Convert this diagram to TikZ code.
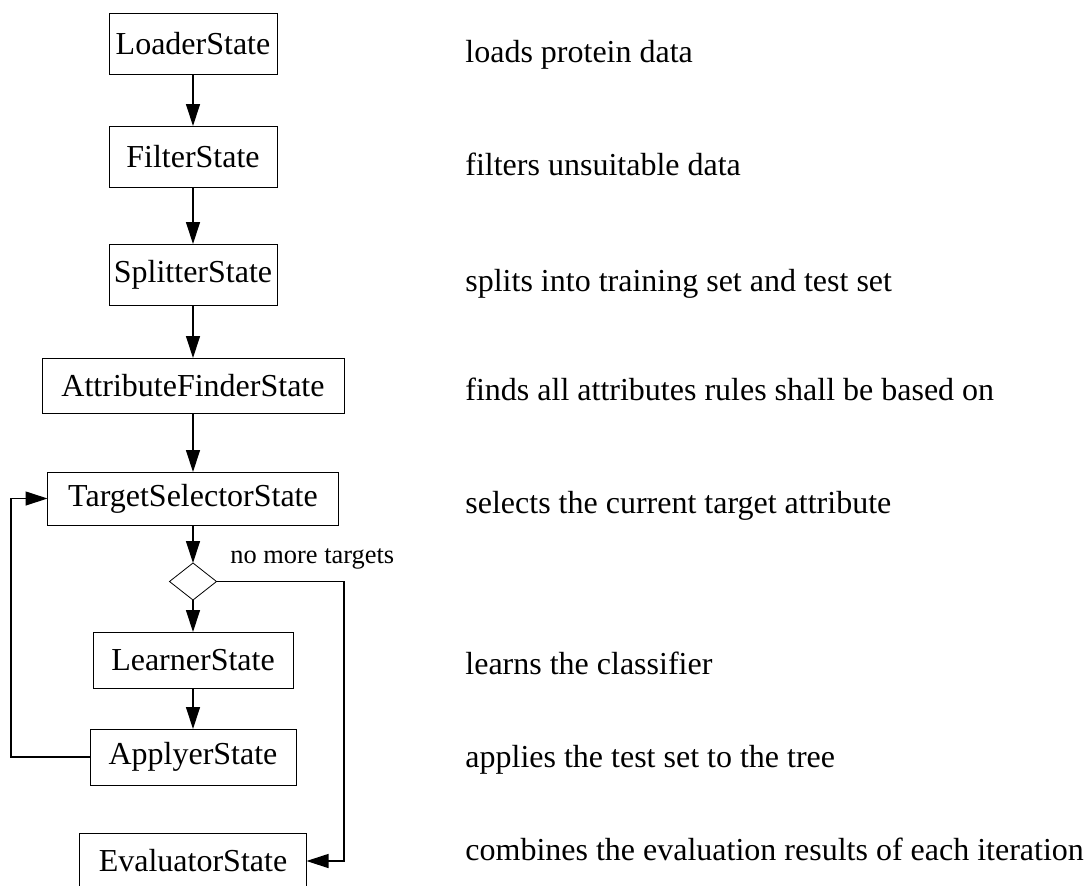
\documentclass[tikz,border=0pt]{standalone}
\usepackage{fontspec}
\setmainfont{Liberation Serif}
\usepackage{tikz}
\usetikzlibrary{shapes.geometric,positioning,calc,arrows.meta}

\begin{document}
\begin{tikzpicture}[node distance=26pt,
 st/.style={draw,inner sep=0pt,outer sep=0pt,minimum height=28pt,font=\fontsize{16}{19}\selectfont},
 dm/.style={diamond,draw,inner sep=0pt,outer sep=0pt,minimum width=23.5pt,minimum height=18.5pt},
 ds/.style={anchor=base west,inner sep=0pt,font=\fontsize{16}{19}\selectfont},
 ar/.style={-{Triangle[length=11pt,width=7pt]},line width=0.6pt}]
\clip (0,0) rectangle (544pt,-442.5pt);
\node[st,minimum width=84pt,minimum height=30.5pt] (ld) at (96.5pt,-21.75pt) {LoaderState};
\node[st,minimum width=84pt,minimum height=30.5pt,below=26pt of ld] (flt) {FilterState};
\node[st,minimum width=84pt,minimum height=30.5pt,below=28.5pt of flt] (spl) {SplitterState};
\node[st,minimum width=151pt,minimum height=27.5pt,below=26.5pt of spl] (att) {AttributeFinderState};
\node[st,minimum width=145.5pt,minimum height=26.5pt,below=29.5pt of att] (tsel) {TargetSelectorState};
\node[dm,below=19pt of tsel] (chk) {};
\node[st,minimum width=100pt,below=16pt of chk] (lrn) {LearnerState};
\node[st,minimum width=103pt,below=20.5pt of lrn] (app) {ApplyerState};
\node[st,minimum width=113.5pt,below=24pt of app] (ev) {EvaluatorState};
\node[anchor=base west,inner sep=0pt,font=\fontsize{13.2}{16}\selectfont] (nmt) at (115pt,-281.5pt) {no more targets};
% descriptions
\node[ds] (dld) at (232.5pt,-31pt) {loads protein data};
\node[ds] (dflt) at (232.5pt,-87.5pt) {filters unsuitable data};
\node[ds] (dspl) at (232.5pt,-145.5pt) {splits into training set and test set};
\node[ds] (datt) at (232.5pt,-200pt) {finds all attributes rules shall be based on};
\node[ds] (dtsel) at (232.5pt,-256.5pt) {selects the current target attribute};
\node[ds] (dlrn) at (232.5pt,-337pt) {learns the classifier};
\node[ds] (dapp) at (232.5pt,-383.5pt) {applies the test set to the tree};
\node[ds] (dev) at (232.5pt,-430pt) {combines the evaluation results of each iteration};
\draw[ar] (ld)--(flt); \draw[ar] (flt)--(spl); \draw[ar] (spl)--(att);
\draw[ar] (att)--(tsel); \draw[ar] (tsel)--(chk); \draw[ar] (chk)--(lrn);
\draw[ar] (lrn)--(app);
\draw[ar] (app.west) -- ++(-39.5pt,0) |- (tsel.west);
\draw[ar] (chk.east) -- ++(63.75pt,0) |- (ev.east);
\end{tikzpicture}
\end{document}
